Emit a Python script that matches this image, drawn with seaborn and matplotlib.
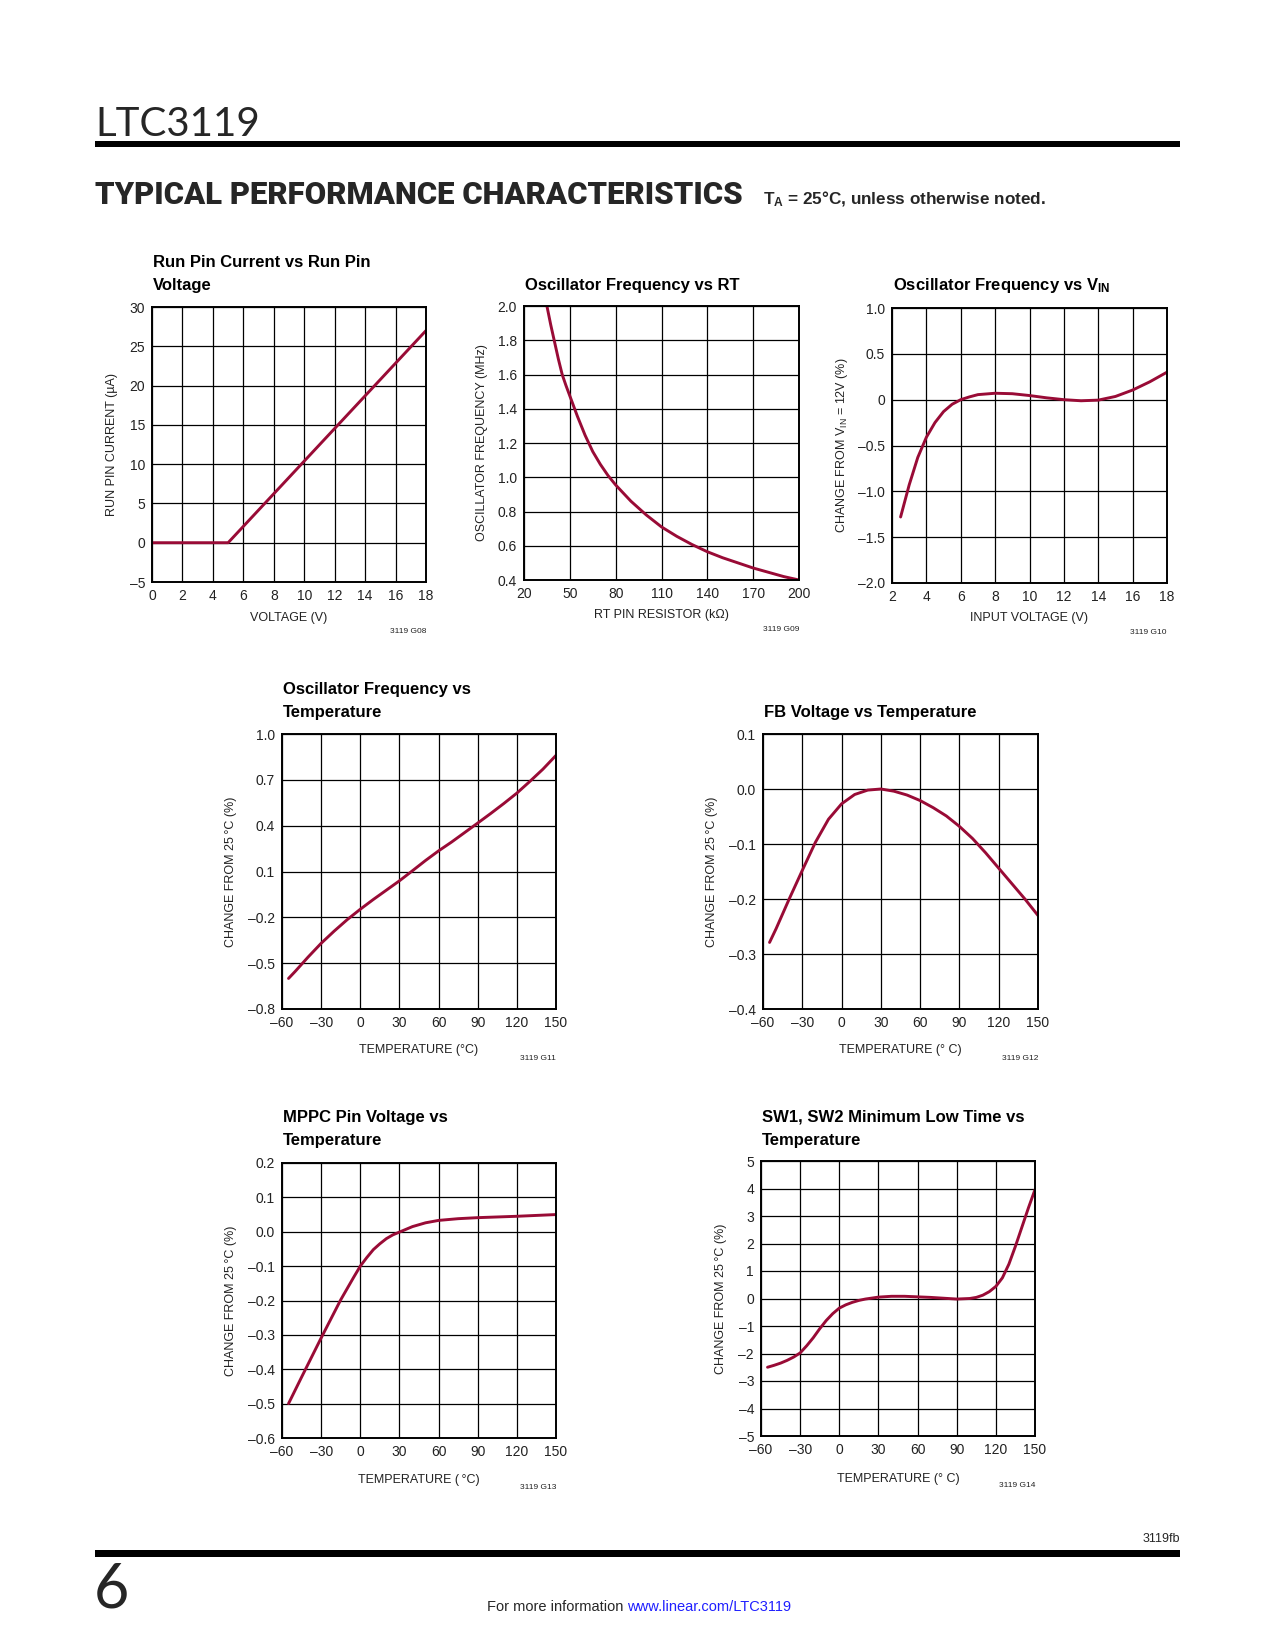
import numpy as np
import pandas as pd
import matplotlib
matplotlib.use("Agg")
import matplotlib.pyplot as plt
import seaborn as sns
from matplotlib.patches import Rectangle

# ---- data ----
# G08 run pin current vs run pin voltage
run_v = [0, 5, 18]
run_i = [0, 0, 27]

# G09 oscillator frequency vs RT
rt_k = [35, 37.5, 40, 42.5, 45, 47.5, 50, 55, 60, 65, 70, 75, 80, 90, 100, 110, 120, 130,
        140, 150, 160, 170, 180, 190, 200]
rt_f = [2.0, 1.89, 1.79, 1.69, 1.60, 1.535, 1.475, 1.355, 1.245, 1.15, 1.075, 1.01, 0.955,
        0.86, 0.78, 0.71, 0.655, 0.607, 0.565, 0.53, 0.50, 0.47, 0.445, 0.42, 0.40]

# G10 oscillator frequency vs VIN
vin = [2.5, 3.0, 3.5, 4.0, 4.5, 5.0, 5.5, 6.0, 6.5, 7.0, 8.0, 9.0, 10, 11, 12, 13, 14, 15,
       16, 17, 18]
vin_chg = [-1.28, -0.93, -0.63, -0.41, -0.25, -0.13, -0.05, 0.0, 0.03, 0.055, 0.07, 0.065,
           0.045, 0.02, 0.0, -0.012, -0.005, 0.035, 0.105, 0.195, 0.3]

# G11 oscillator frequency vs temperature
osc_t = [-55, -50, -40, -30, -20, -10, 0, 10, 20, 30, 40, 50, 60, 70, 80, 90, 100, 110,
         120, 130, 140, 150]
osc_chg = [-0.60, -0.555, -0.46, -0.37, -0.29, -0.215, -0.147, -0.083, -0.022, 0.039,
           0.105, 0.172, 0.235, 0.293, 0.355, 0.417, 0.48, 0.545, 0.613, 0.69, 0.77, 0.86]

# G12 FB voltage vs temperature
fb_t = [-55, -50, -40, -30, -20, -10, 0, 10, 20, 30, 40, 50, 60, 70, 80, 90, 100, 110,
        120, 130, 140, 150]
fb_chg = [-0.279, -0.254, -0.2, -0.148, -0.097, -0.055, -0.027, -0.01, -0.002, 0.0,
          -0.004, -0.011, -0.021, -0.034, -0.049, -0.068, -0.09, -0.116, -0.144, -0.172,
          -0.2, -0.23]

# G13 MPPC pin voltage vs temperature
mppc_t = [-55, -45, -30, -15, -10, -5, 0, 5, 10, 15, 20, 25, 30, 40, 50, 60, 75, 90,
          120, 150]
mppc_chg = [-0.50, -0.423, -0.309, -0.198, -0.165, -0.132, -0.10, -0.075, -0.052, -0.035,
            -0.02, -0.009, -0.001, 0.015, 0.026, 0.033, 0.038, 0.041, 0.045, 0.05]

# G14 SW1, SW2 minimum low time vs temperature
sw_t = [-55, -50, -45, -40, -35, -30, -25, -20, -15, -10, -5, 0, 5, 10, 15, 20, 30, 40,
        50, 60, 70, 80, 90, 100, 105, 110, 115, 120, 125, 130, 135, 140, 145, 150]
sw_chg = [-2.5, -2.43, -2.35, -2.25, -2.13, -1.98, -1.72, -1.43, -1.1, -0.8, -0.55, -0.35,
          -0.23, -0.14, -0.07, -0.02, 0.05, 0.08, 0.08, 0.06, 0.04, 0.01, -0.02, 0.0, 0.04,
          0.12, 0.25, 0.44, 0.75, 1.25, 1.9, 2.6, 3.3, 3.96]

temp_ticks = [-60, -30, 0, 30, 60, 90, 120, 150]

W, H = 1275, 1650
RED = "#990b36"
INK = "#222222"

sns.set_theme(style="white")
plt.rcParams["font.family"] = ["Liberation Sans", "DejaVu Sans"]
plt.rcParams["mathtext.default"] = "regular"

fig = plt.figure(figsize=(W / 100, H / 100), dpi=100)


def ftext(x, y, s, **kw):
    # place text using page pixel coordinates
    kw.setdefault("va", "baseline")
    return fig.text(x / W, 1 - y / H, s, **kw)


def lab(v, fmt):
    s = fmt.format(v + 0.0 if isinstance(v, float) else v)
    return s.replace("-", "\u2013")


def panel(box, x, y, xlim, xticks, xfmt, ylim, yticks, yfmt, title, xlabel, ylabel,
          ylab_off, xlab_off, tag, tbase):
    l, t, r, b = box
    ax = fig.add_axes([l / W, 1 - b / H, (r - l) / W, (b - t) / H])
    sns.lineplot(x=x, y=y, ax=ax, color=RED, linewidth=2.1, sort=False, estimator=None)
    ax.set_xlim(xlim)
    ax.set_ylim(ylim)
    ax.set_xticks(xticks, [lab(v, xfmt) for v in xticks])
    ax.set_yticks(yticks, [lab(v, yfmt) for v in yticks])
    ax.grid(True, color="black", linewidth=0.9)
    for sp in ax.spines.values():
        sp.set_color("black")
        sp.set_linewidth(1.4)
        sp.set_visible(True)
    ax.tick_params(length=0, labelsize=10, colors=INK, pad=5)
    ax.set_xlabel(xlabel, fontsize=9, color=INK)
    ax.set_ylabel(ylabel, fontsize=9, color=INK)
    ax.xaxis.label.set_va("baseline")
    ax.yaxis.label.set_va("center")
    ax.xaxis.set_label_coords(0.5, -xlab_off / (b - t))
    ax.yaxis.set_label_coords(-ylab_off / (r - l), 0.5)
    for i, line in enumerate(title):
        ftext(l + 1, tbase + 23 * i, line, fontsize=12, fontweight="bold", color="black")
    ftext(r, b + 51, "3119 " + tag, fontsize=6, ha="right", color=INK)
    return ax


panel((152, 307, 426, 582), run_v, run_i, (0, 18), list(range(0, 19, 2)), "{:d}",
      (-5, 30), list(range(-5, 31, 5)), "{:d}",
      ["Run Pin Current vs Run Pin", "Voltage"], "VOLTAGE (V)",
      "RUN PIN CURRENT (\u00b5A)", 40, 39, "G08", 267)

panel((524, 306, 799, 580), rt_k, rt_f, (20, 200), list(range(20, 201, 30)), "{:d}",
      (0.4, 2.0), list(np.round(np.arange(0.4, 2.01, 0.2), 1)), "{:.1f}",
      ["Oscillator Frequency vs RT"], "RT PIN RESISTOR (k\u03a9)",
      "OSCILLATOR FREQUENCY (MHz)", 42, 38, "G09", 290)

ax3 = panel((892, 308, 1167, 583), vin, vin_chg, (2, 18), list(range(2, 19, 2)), "{:d}",
            (-2.0, 1.0), [-2.0, -1.5, -1.0, -0.5, 0, 0.5, 1.0], "{:.1f}",
            ["Oscillator Frequency vs V$_{IN}$"], "INPUT VOLTAGE (V)",
            "CHANGE FROM V$_{IN}$ = 12V (%)", 50, 38, "G10", 290)
ax3.set_yticklabels(["\u20132.0", "\u20131.5", "\u20131.0", "\u20130.5", "0", "0.5", "1.0"])

panel((282, 734, 556, 1009), osc_t, osc_chg, (-60, 150), temp_ticks, "{:d}",
      (-0.8, 1.0), [-0.8, -0.5, -0.2, 0.1, 0.4, 0.7, 1.0], "{:.1f}",
      ["Oscillator Frequency vs", "Temperature"], "TEMPERATURE (\u00b0C)",
      "CHANGE FROM 25\u2009\u00b0C (%)", 51, 44, "G11", 694)

panel((763, 734, 1038, 1009), fb_t, fb_chg, (-60, 150), temp_ticks, "{:d}",
      (-0.4, 0.1), [-0.4, -0.3, -0.2, -0.1, 0.0, 0.1], "{:.1f}",
      ["FB Voltage vs Temperature"], "TEMPERATURE (\u00b0 C)",
      "CHANGE FROM 25\u2009\u00b0C (%)", 51, 44, "G12", 717)

panel((282, 1163, 556, 1438), mppc_t, mppc_chg, (-60, 150), temp_ticks, "{:d}",
      (-0.6, 0.2), list(np.round(np.arange(-0.6, 0.21, 0.1), 1)), "{:.1f}",
      ["MPPC Pin Voltage vs", "Temperature"], "TEMPERATURE (\u2009\u00b0C)",
      "CHANGE FROM 25\u2009\u00b0C (%)", 51, 45, "G13", 1122)

panel((761, 1161, 1035, 1436), sw_t, sw_chg, (-60, 150), temp_ticks, "{:d}",
      (-5, 5), list(range(-5, 6)), "{:d}",
      ["SW1, SW2 Minimum Low Time vs", "Temperature"], "TEMPERATURE (\u00b0 C)",
      "CHANGE FROM 25\u2009\u00b0C (%)", 40, 46, "G14", 1122)

# ---- page furniture ----
ftext(95, 136, "LTC3119", fontsize=29, family=["Lato", "DejaVu Sans"])
fig.add_artist(Rectangle((95 / W, 1 - 147 / H), (1180 - 95) / W, 6 / H,
                         transform=fig.transFigure, color="black", lw=0))
ftext(95, 204, "TYPICAL PERFORMANCE CHARACTERISTICS", fontsize=22.4,
      family=["Roboto", "Liberation Sans"], fontweight="black")
ftext(763, 204, "T$_A$ = 25\u00b0C, unless otherwise noted.", fontsize=12.3, fontweight="bold")

ftext(1180, 1542, "3119fb", fontsize=9, ha="right")
fig.add_artist(Rectangle((95 / W, 1 - 1557 / H), (1180 - 95) / W, 7 / H,
                         transform=fig.transFigure, color="black", lw=0))
ftext(94, 1607, "6", fontsize=44, family=["Lato", "DejaVu Sans"])
ftext(623, 1611, "For more information", fontsize=10.5, ha="right")
ftext(627, 1611, "www.linear.com/LTC3119", fontsize=10.5, ha="left", color="#1f1fff")

fig.savefig("out.png", dpi=100, facecolor="white")
